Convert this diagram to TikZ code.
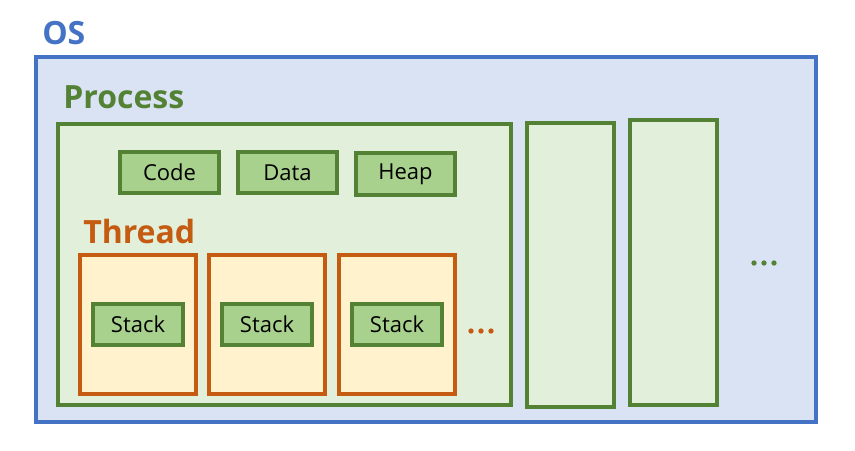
\documentclass[tikz,border=0pt]{standalone}
\usepackage{fontspec}
\setmainfont{Open Sans}
\usepackage{tikz}
\definecolor{osblue}{HTML}{4472C4}
\definecolor{osfill}{HTML}{DAE3F3}
\definecolor{prgreen}{HTML}{548235}
\definecolor{prfill}{HTML}{E2EFDA}
\definecolor{segfill}{HTML}{A9D18E}
\definecolor{thorange}{HTML}{C55A11}
\definecolor{thfill}{HTML}{FFF2CC}
\tikzset{osbox/.style={draw=osblue, fill=osfill, line width=3pt, inner sep=0pt}}
\tikzset{procbox/.style={draw=prgreen, fill=prfill, line width=3pt, inner sep=0pt}}
\tikzset{segbox/.style={draw=prgreen, fill=segfill, line width=3pt, inner sep=0pt,
      minimum width=74.25pt, font=\fontsize{16.5}{19}\selectfont}}
\tikzset{thbox/.style={draw=thorange, fill=thfill, line width=3pt, inner sep=0pt,
      minimum width=87pt, minimum height=104.25pt}}
\tikzset{title/.style={anchor=base west, inner sep=0pt, font=\fontsize{24}{28}\selectfont\bfseries}}
\tikzset{dot/.style={circle, inner sep=0pt, minimum size=4pt}}

\begin{document}
\begin{tikzpicture}[x=0.75pt,y=-0.75pt]
    \useasboundingbox (0,0) rectangle (855,450);
    \node[title, text=osblue] (os) at (42,44) {OS};
    \node[osbox, minimum width=585pt, minimum height=273.4pt] (osbox) at (426,239.25) {};
    \node[title, text=prgreen] (process) at (63,108) {Process};
    \node[procbox, minimum width=340.1pt, minimum height=211.1pt] (proc1) at (284.25,264.75) {};
    \node[procbox, minimum width=65.25pt, minimum height=213pt] (proc2) at (570.5,265) {};
    \node[procbox, minimum width=65.25pt, minimum height=213.75pt] (proc3) at (673.5,262.5) {};
    \node[segbox, minimum height=30.75pt] (code) at (169.5,172.5) {Code};
    \node[segbox, minimum height=30.75pt] (data) at (287.5,172.5) {Data};
    \node[segbox, minimum height=31.5pt] (heap) at (405.5,174) {Heap};
    \node[title, text=thorange] (thread) at (83,243) {Thread};
    \foreach \x/\n in {138/1,267/2,397/3}{
      \node[thbox] (th\n) at (\x,324.5) {};
      \node[segbox, minimum width=67.5pt, minimum height=30.75pt] (stack\n) at (th\n) {Stack};
    }
    \foreach \x/\n in {471/1,481/2,491/3}
      \node[dot, fill=thorange] (thdot\n) at (\x,331) {};
    \foreach \x/\n in {754/1,764/2,774/3}
      \node[dot, fill=prgreen] (prdot\n) at (\x,263) {};
  \end{tikzpicture}
\end{document}
